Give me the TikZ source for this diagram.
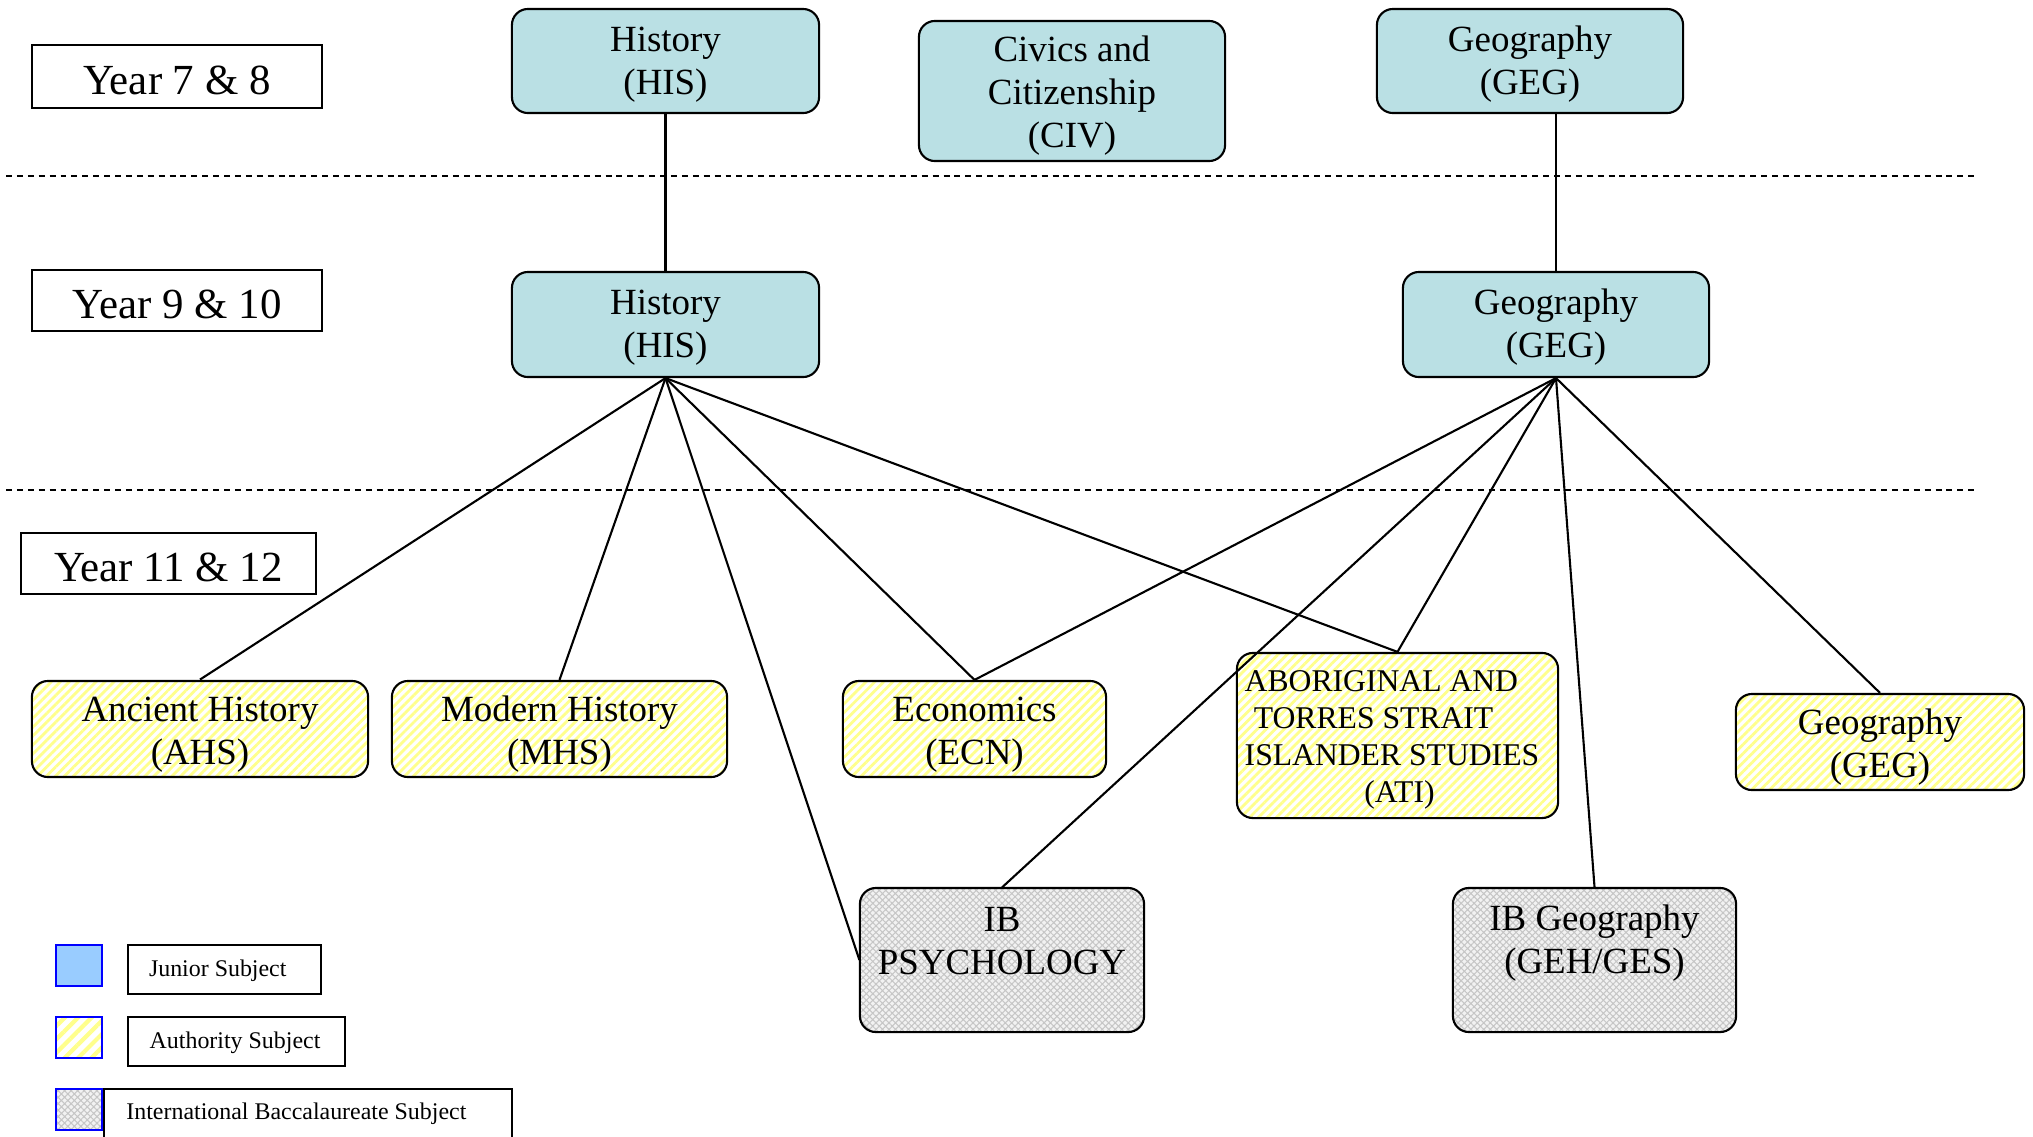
\documentclass[tikz,border=0pt]{standalone}
\usepackage{fontspec}
\setmainfont{Liberation Serif}
\usetikzlibrary{patterns.meta,calc}
\definecolor{junior}{RGB}{186,224,228}
\definecolor{legblue}{RGB}{153,204,255}
\definecolor{stripe}{RGB}{255,255,140}
\tikzset{
 box/.style={draw, rounded corners=0.16cm, line width=0.6pt, inner sep=0pt},
 junbox/.style={box, fill=junior},
 authbox/.style={box, pattern={Lines[angle=45,distance=1.8pt,line width=0.8pt]}, pattern color=stripe},
 ibbox/.style={box, preaction={fill=gray!10}, pattern={Hatch[angle=45,distance=1.3pt,line width=0.3pt]}, pattern color=gray!45},
 txt/.style={inner sep=0pt, align=center, font=\fontsize{10.5}{12.2}\selectfont},
 yearbox/.style={draw, line width=0.6pt, inner sep=0pt},
 yeartxt/.style={inner sep=0pt, font=\fontsize{12.2}{14}\selectfont},
 link/.style={line width=0.6pt},
 sep/.style={dash pattern=on 1.7pt off 1.4pt, line width=0.5pt},
 legsq/.style={draw=blue, line width=0.6pt, inner sep=0pt},
 legbox/.style={draw, line width=0.6pt, inner sep=0pt},
 legtext/.style={font=\fontsize{6.8}{8}\selectfont, inner sep=0pt, anchor=west}
}
\begin{document}
\begin{tikzpicture}[x=0.01cm, y=-0.01cm]
\useasboundingbox (0,0) rectangle (2033,1136);

% separators
\coordinate (d1a) at (6,176); \coordinate (d1b) at (1977,176);
\coordinate (d2a) at (6,490); \coordinate (d2b) at (1977,490);
\draw[sep] (d1a) -- (d1b);
\draw[sep] (d2a) -- (d2b);

% year labels
\node[yearbox, minimum width=2.90cm, minimum height=0.63cm] (y7) at (177,76.5) {};
\node[yeartxt] (y7t) at ($(y7)+(0,4)$) {Year 7 \& 8};
\node[yearbox, minimum width=2.90cm, minimum height=0.61cm] (y9) at (177,300.5) {};
\node[yeartxt] (y9t) at ($(y9)+(0,4)$) {Year 9 \& 10};
\node[yearbox, minimum width=2.95cm, minimum height=0.61cm] (y11) at (168.5,563.5) {};
\node[yeartxt] (y11t) at ($(y11)+(0,4)$) {Year 11 \& 12};

% junior subjects
\node[junbox, minimum width=3.07cm, minimum height=1.04cm] (his1) at (665.5,61) {};
\node[txt] (his1t) at ($(his1)+(0,4)$) {History\\(HIS)};
\node[junbox, minimum width=3.06cm, minimum height=1.40cm] (civ) at (1072,91) {};
\node[txt] (civt) at ($(civ)+(0,5)$) {Civics and\\Citizenship\\(CIV)};
\node[junbox, minimum width=3.06cm, minimum height=1.04cm] (geg1) at (1530,61) {};
\node[txt] (geg1t) at ($(geg1)+(0,3)$) {Geography\\(GEG)};
\node[junbox, minimum width=3.07cm, minimum height=1.05cm] (his2) at (665.5,324.5) {};
\node[txt] (his2t) at ($(his2)+(0,3)$) {History\\(HIS)};
\node[junbox, minimum width=3.06cm, minimum height=1.05cm] (geg2) at (1556,324.5) {};
\node[txt] (geg2t) at ($(geg2)+(0,3)$) {Geography\\(GEG)};

% senior subjects
\node[authbox, minimum width=3.36cm, minimum height=0.96cm] (ahs) at (200,729) {};
\node[txt] (ahst) at ($(ahs)+(0,6)$) {Ancient History\\(AHS)};
\node[authbox, minimum width=3.35cm, minimum height=0.96cm] (mhs) at (559.5,729) {};
\node[txt] (mhst) at ($(mhs)+(0,5)$) {Modern History\\(MHS)};
\node[authbox, minimum width=2.63cm, minimum height=0.96cm] (ecn) at (974.5,729) {};
\node[txt] (ecnt) at ($(ecn)+(0,6)$) {Economics\\(ECN)};
\node[authbox, minimum width=3.21cm, minimum height=1.65cm] (ati) at (1397.5,735.5) {};
\node[inner sep=0pt, align=left, font=\fontsize{9}{10.5}\selectfont, anchor=west] (atit) at (1244,739.5)
  {ABORIGINAL AND\\\hspace*{2.6pt}TORRES STRAIT\\ISLANDER STUDIES\\\hspace*{34pt}(ATI)};
\node[authbox, minimum width=2.88cm, minimum height=0.96cm] (geg3) at (1880,742) {};
\node[txt] (geg3t) at ($(geg3)+(0,5)$) {Geography\\(GEG)};
\node[ibbox, minimum width=2.84cm, minimum height=1.44cm] (psy) at (1002,960) {};
\node[txt] (psyt) at (1002,941) {IB\\PSYCHOLOGY};
\node[ibbox, minimum width=2.83cm, minimum height=1.44cm] (ibg) at (1594.5,960) {};
\node[txt] (ibgt) at (1594.5,943) {IB Geography\\(GEH/GES)};

% connectors
\draw[link] (his1.south) -- (his2.north);
\draw[link] (geg1.south -| geg2.north) -- (geg2.north);
\draw[link] (his2.south) -- (ahs.north);
\draw[link] (his2.south) -- (mhs.north);
\draw[link] (his2.south) -- (psy.west);
\draw[link] (his2.south) -- (ecn.north);
\draw[link] (his2.south) -- (ati.north);
\draw[link] (geg2.south) -- (ecn.north);
\draw[link] (geg2.south) -- (psy.north);
\draw[link] (geg2.south) -- (ati.north);
\draw[link] (geg2.south) -- (ibg.north);
\draw[link] (geg2.south) -- (geg3.north);

% legend
\node[legsq, fill=legblue, minimum width=0.466cm, minimum height=0.413cm] (lj) at (79,965.3) {};
\node[legsq, pattern={Lines[angle=45,distance=2.7pt,line width=1.2pt]}, pattern color=stripe, minimum width=0.46cm, minimum height=0.41cm] (la) at (78.7,1037.5) {};
\node[legsq, preaction={fill=gray!10}, pattern={Hatch[angle=45,distance=1.3pt,line width=0.3pt]}, pattern color=gray!45, minimum width=0.463cm, minimum height=0.41cm] (li) at (78.9,1109.5) {};
\node[legbox, minimum width=1.93cm, minimum height=0.49cm] (ljb) at (224.2,969.2) {};
\node[legbox, minimum width=2.173cm, minimum height=0.487cm] (lab) at (236.4,1041.3) {};
\coordinate (lia) at (104,1140); \coordinate (lib) at (104,1089);
\coordinate (lic) at (512,1089); \coordinate (lid) at (512,1140);
\draw[line width=0.6pt] (lia) -- (lib) -- (lic) -- (lid);
\node[legtext] (ljt) at (148.3,970.5) {Junior Subject};
\node[legtext] (lat) at (149,1042.5) {Authority Subject};
\node[legtext] (lit) at (125.7,1114) {International Baccalaureate Subject};
\end{tikzpicture}
\end{document}
